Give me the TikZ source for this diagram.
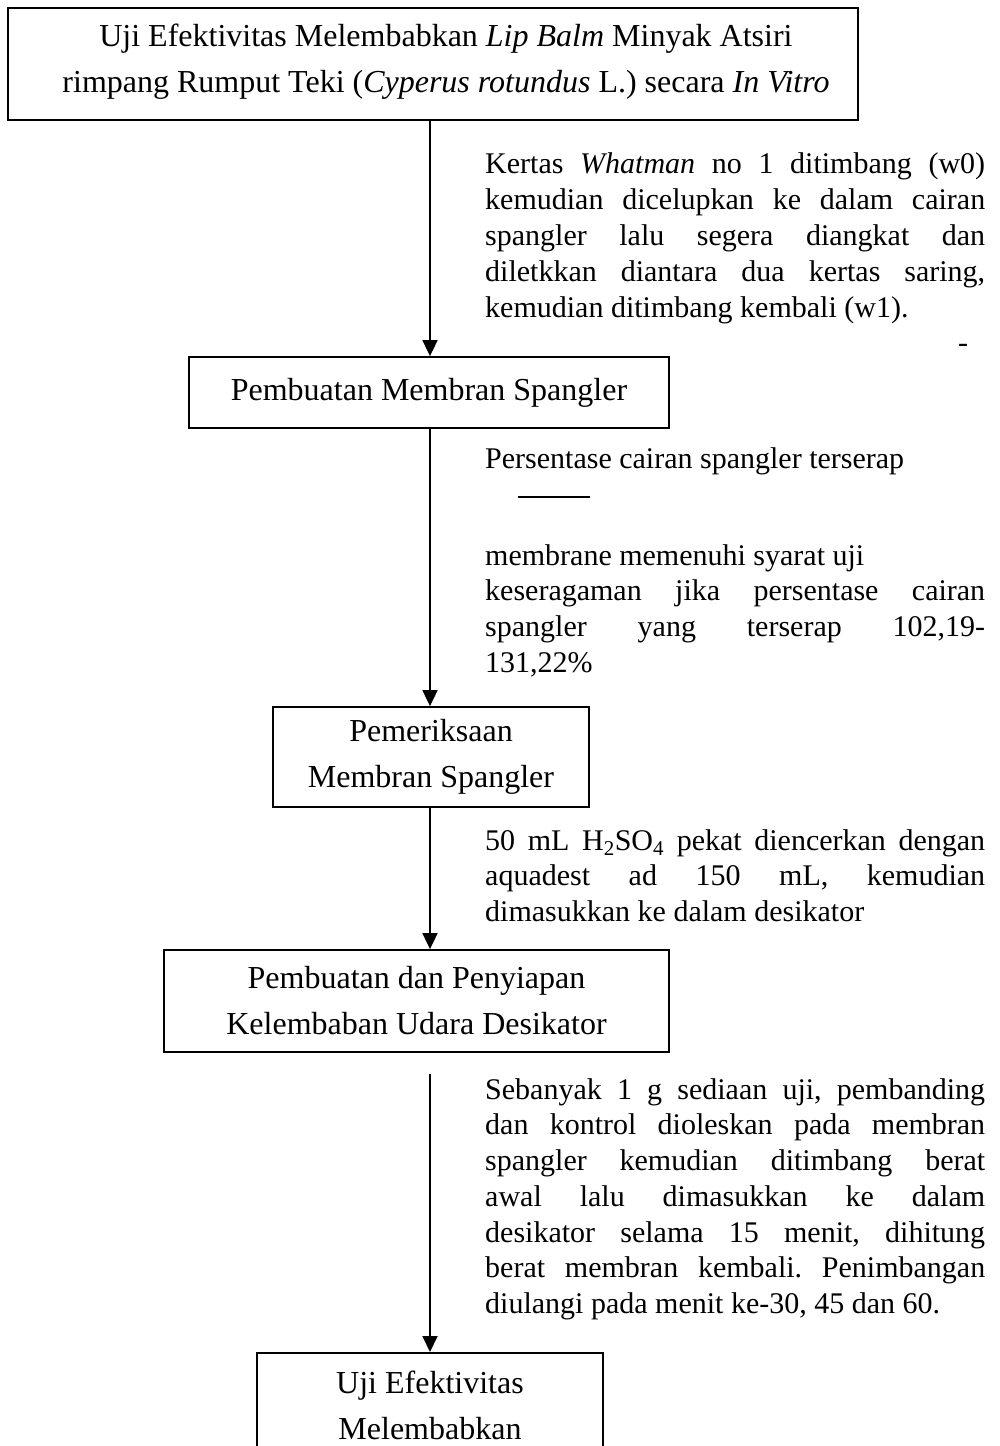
\documentclass[tikz,border=0pt]{standalone}
\usepackage{fontspec}
\setmainfont{Liberation Serif}
\usetikzlibrary{arrows.meta}
\frenchspacing
\begin{document}
\begin{tikzpicture}[x=1pt,y=-1pt,
  box/.style={draw, line width=1.8pt, inner sep=0pt, align=center, font=\fontsize{32}{46}\selectfont},
  boxtext/.style={inner sep=0pt, align=center, font=\fontsize{32}{46}\selectfont},
  arr/.style={line width=1.8pt, -{Triangle[length=16pt,width=15pt]}},
  body/.style={anchor=north west, inner sep=0pt, text width=500pt, align=justify, font=\fontsize{30}{36}\selectfont},
  plain/.style={inner sep=0pt, font=\fontsize{30}{36}\selectfont}]
\useasboundingbox (0,0) rectangle (1000,1446);
\clip (0,0) rectangle (1000,1446);
\coordinate (ax) at (430,0);
% boxes
\node[box, minimum width=850pt, minimum height=112pt] (box1) at (433,64) {};
\node[boxtext] (t1) at (446,62) {Uji Efektivitas Melembabkan \textit{Lip Balm} Minyak Atsiri\\ rimpang Rumput Teki (\textit{Cyperus rotundus} L.) secara \textit{In Vitro}};
\node[box, minimum width=480pt, minimum height=71pt] (box2) at (429,392.5) {Pembuatan Membran Spangler};
\node[box, minimum width=316pt, minimum height=100pt] (box3) at (431,757) {Pemeriksaan\\ Membran Spangler};
\node[box, minimum width=505pt, minimum height=102pt] (box4) at (416.5,1001) {Pembuatan dan Penyiapan\\ Kelembaban Udara Desikator};
\node[box, anchor=north, minimum width=346pt, inner ysep=18pt] (box5) at (430,1352) {Uji Efektivitas\\ Melembabkan};
% texts
\node[body] (b1) at (485,149) {\rule{0pt}{24pt}Kertas \textit{Whatman} no 1 ditimbang (w0)\linebreak kemudian dicelupkan ke dalam cairan\linebreak spangler lalu segera diangkat dan\linebreak diletkkan diantara dua kertas saring,\linebreak kemudian ditimbang kembali (w1).};
\node[plain] (dash) at (963,348) {-};
\node[plain, anchor=north west] (b2a) at (485,444) {\rule{0pt}{24pt}Persentase cairan spangler terserap};
\coordinate (l1) at (518,497);
\coordinate (l2) at (590,497);
\draw[line width=1.6pt] (l1) -- (l2);
\node[body, font=\fontsize{30}{35.7}\selectfont] (b2b) at (485,541) {\rule{0pt}{24pt}membrane memenuhi syarat uji\\ keseragaman jika persentase cairan\linebreak spangler yang terserap 102,19-\linebreak 131,22\%};
\node[body, font=\fontsize{30}{35.5}\selectfont] (b3) at (485,826) {\rule{0pt}{24pt}50 mL H\textsubscript{2}SO\textsubscript{4} pekat diencerkan dengan\linebreak aquadest ad 150 mL, kemudian\linebreak dimasukkan ke dalam desikator};
\node[body, font=\fontsize{30}{35.7}\selectfont] (b4) at (485,1075) {\rule{0pt}{24pt}Sebanyak 1 g sediaan uji, pembanding\linebreak dan kontrol dioleskan pada membran\linebreak spangler kemudian ditimbang berat\linebreak awal lalu dimasukkan ke dalam\linebreak desikator selama 15 menit, dihitung\linebreak berat membran kembali. Penimbangan\linebreak diulangi pada menit ke-30, 45 dan 60.};
% connectors
\coordinate (s5) at (430,1074);
\draw[arr] (box1.south -| ax) -- (box2.north -| ax);
\draw[arr] (box2.south -| ax) -- (box3.north -| ax);
\draw[arr] (box3.south -| ax) -- (box4.north -| ax);
\draw[arr] (s5) -- (box5.north -| ax);
\end{tikzpicture}
\end{document}
